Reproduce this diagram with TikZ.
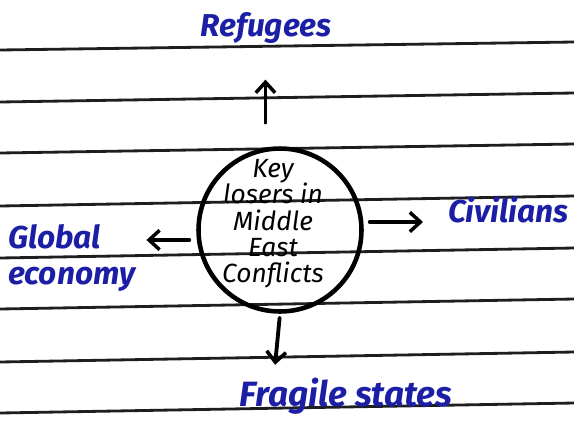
\documentclass[tikz,border=0pt]{standalone}
\usepackage{fontspec}
\setmainfont{Fira Sans}
\usepackage{tikz}
\usetikzlibrary{
	arrows.meta,
	positioning,
	calc
}
\usepackage{xcolor}
\definecolor{ink}{RGB}{28,30,165}
\definecolor{rule}{RGB}{30,30,30}

\tikzset{
	label/.style={text=ink,font=\fontsize{18}{20}\selectfont\bfseries\itshape,inner sep=1pt},
	hand/.style={line width=2.2pt,line cap=round,-{Straight Barb[length=6pt,width=11pt,line width=2pt]}}
}

\begin{document}
\begin{tikzpicture}[x=0.02cm,y=-0.02cm]
		
		\useasboundingbox[fill=white] (0,0) rectangle (574,430);
		
		% ruled lines of the paper
		\foreach \l/\r in {
			50/42,
			102/93,
			153/144,
			206/196,
			258/248,
			309/299,
			362/352,
			413/403
		}
		\draw[rule,line width=1.6pt] (0,\l) -- (574,\r);
		
		% centre
		\node[circle,draw,line width=2.6pt,minimum size=3.26cm,inner sep=0pt] (losers) at (280,230) {};
		\node[align=center,font=\fontsize{15}{15}\selectfont\itshape] (losertext) at (273,224) {Key\\losers in\\Middle\\East\\Conflicts};
		
		% the losers
		\node[label] (refugees) at (266,28) {Refugees};
		\node[label,anchor=west] (civilians) at (446,210) {Civilians};
		\node[label,align=left,anchor=west] (economy) at (6,258) {Global\\economy};
		\node[label,font=\fontsize{20}{22}\selectfont\bfseries\itshape] (fragile) at (346,396) {Fragile states};
		
		\draw[hand,shorten <=0.5cm,shorten >=0.68cm] (losers.100) -- (losers.100 |- refugees.south);
		\draw[hand,shorten <=0.12cm,shorten >=0.46cm] (losers.east |- 0,222) -- (civilians.west |- 0,222);
		\draw[hand,shorten <=0.14cm,shorten >=0.18cm] (losers.west |- 0,240) -- (economy.east |- 0,240);
		\draw[hand,shorten <=0.08cm,shorten >=0.22cm] (losers.south) -- (fragile.north -| 274,0);
		
	\end{tikzpicture}
\end{document}
